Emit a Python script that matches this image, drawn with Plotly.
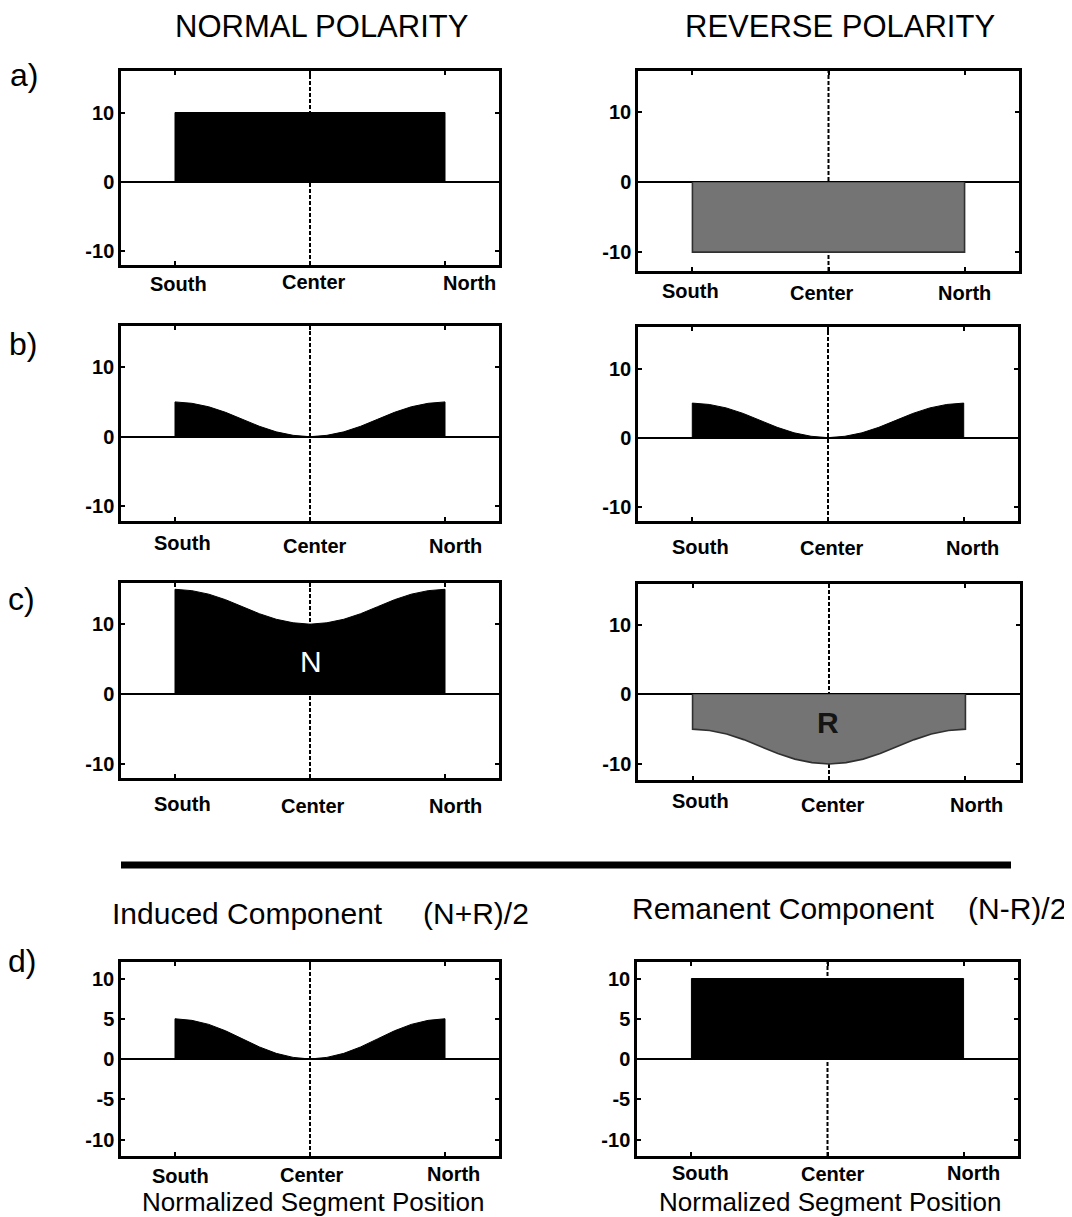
import plotly.graph_objects as go

# page size and the browser's default body margin (the figure div starts at 8,8)
PAGE_W, PAGE_H = 1072, 1217
OFF = 8
W, H = PAGE_W - OFF, PAGE_H - OFF

# ---------------- data ----------------
segment_pos = [-1, -0.875, -0.75, -0.625, -0.5, -0.375, -0.25, -0.125, 0,
               0.125, 0.25, 0.375, 0.5, 0.625, 0.75, 0.875, 1]
segment_ends = [-1, 1]

a_normal = [10, 10]
a_reverse = [-10, -10]
b_normal = [5.0, 4.8, 4.3, 3.5, 2.5, 1.5, 0.7, 0.2, 0.0, 0.2, 0.7, 1.5, 2.5, 3.5, 4.3, 4.8, 5.0]
b_reverse = [5.0, 4.8, 4.3, 3.5, 2.5, 1.5, 0.7, 0.2, 0.0, 0.2, 0.7, 1.5, 2.5, 3.5, 4.3, 4.8, 5.0]
c_normal = [15.0, 14.8, 14.3, 13.5, 12.5, 11.5, 10.7, 10.2, 10.0, 10.2, 10.7, 11.5, 12.5, 13.5, 14.3, 14.8, 15.0]
c_reverse = [-5.0, -5.2, -5.7, -6.5, -7.5, -8.5, -9.3, -9.8, -10.0, -9.8, -9.3, -8.5, -7.5, -6.5, -5.7, -5.2, -5.0]
d_induced = [5.0, 4.8, 4.3, 3.5, 2.5, 1.5, 0.7, 0.2, 0.0, 0.2, 0.7, 1.5, 2.5, 3.5, 4.3, 4.8, 5.0]
d_remanent = [10, 10]

x_tick_vals = [-1, 0, 1]
x_tick_text = ["South", "Center", "North"]
y_tick_vals_abc = [-10, 0, 10]
y_tick_text_abc = ["-10", "0", "10"]
y_tick_vals_d = [-10, -5, 0, 5, 10]
y_tick_text_d = ["-10", "-5", "0", "5", "10"]

col_titles = ["NORMAL POLARITY", "REVERSE POLARITY"]
row_labels = ["a)", "b)", "c)", "d)"]
comp_titles = [("Induced Component", "(N+R)/2"), ("Remanent Component", "(N-R)/2")]
x_axis_title = "Normalized Segment Position"

# ---------------- styling / layout ----------------
FONT = "Liberation Sans, Arial, Helvetica, sans-serif"
BLACK = "#000000"
GRAY = "#747474"
GRAY_EDGE = "#303030"


def px(x):
    return (x - OFF) / W


def py(y):
    return 1 - (y - OFF) / H


# panel: data x, data y, fill colour, edge colour, box (x0,x1,y0,y1 page px), y range, y ticks, label positions
panels = [
    dict(x=segment_ends, y=a_normal, fill=BLACK, edge=BLACK, box=(121, 499, 71, 265), yr=(-12.05, 16.0),
         yt=(y_tick_vals_abc, y_tick_text_abc), lab=[(178, 284), (314, 282), (469, 283)]),
    dict(x=segment_ends, y=a_reverse, fill=GRAY, edge=GRAY_EDGE, box=(638, 1019, 71, 271), yr=(-12.7, 15.9),
         yt=(y_tick_vals_abc, y_tick_text_abc), lab=[(690, 291), (822, 293), (964, 293)]),
    dict(x=segment_pos, y=b_normal, fill=BLACK, edge=BLACK, box=(121, 499, 326, 521), yr=(-12.1, 15.9),
         yt=(y_tick_vals_abc, y_tick_text_abc), lab=[(182, 543), (315, 546), (455, 546)]),
    dict(x=segment_pos, y=b_reverse, fill=BLACK, edge=BLACK, box=(638, 1018, 327, 521), yr=(-12.05, 16.0),
         yt=(y_tick_vals_abc, y_tick_text_abc), lab=[(700, 547), (832, 548), (972, 548)]),
    dict(x=segment_pos, y=c_normal, fill=BLACK, edge=BLACK, box=(121, 499, 583, 778), yr=(-12.05, 15.9),
         yt=(y_tick_vals_abc, y_tick_text_abc), lab=[(182, 804), (313, 806), (455, 806)]),
    dict(x=segment_pos, y=c_reverse, fill=GRAY, edge=GRAY_EDGE, box=(638, 1020, 584, 780), yr=(-12.3, 15.85),
         yt=(y_tick_vals_abc, y_tick_text_abc), lab=[(700, 801), (833, 805), (976, 805)]),
    dict(x=segment_pos, y=d_induced, fill=BLACK, edge=BLACK, box=(121, 499, 962, 1156), yr=(-12.05, 12.05),
         yt=(y_tick_vals_d, y_tick_text_d), lab=[(180, 1176), (312, 1175), (453, 1174)]),
    dict(x=segment_ends, y=d_remanent, fill=BLACK, edge=BLACK, box=(637, 1018, 962, 1156), yr=(-12.05, 12.05),
         yt=(y_tick_vals_d, y_tick_text_d), lab=[(700, 1173), (833, 1174), (973, 1173)]),
]

fig = go.Figure()
shapes = []
annotations = []
layout_axes = {}

for i, p in enumerate(panels):
    n = i + 1
    xa = "xaxis" if n == 1 else f"xaxis{n}"
    ya = "yaxis" if n == 1 else f"yaxis{n}"
    xr = "x" if n == 1 else f"x{n}"
    yr = "y" if n == 1 else f"y{n}"
    x0, x1, y0, y1 = p["box"]

    xs = [p["x"][0]] + list(p["x"]) + [p["x"][-1]]
    ys = [0] + list(p["y"]) + [0]
    fig.add_trace(go.Scatter(
        x=xs, y=ys, mode="lines", fill="toself", fillcolor=p["fill"],
        line=dict(color=p["edge"], width=1.6 if p["fill"] == GRAY else 1),
        xaxis=xr, yaxis=yr, hoverinfo="skip", showlegend=False))

    layout_axes[xa] = dict(
        domain=[px(x0), px(x1)], anchor=yr, range=[-1.4, 1.4],
        showgrid=False, zeroline=False, showline=True, linecolor=BLACK, linewidth=2.5,
        mirror="ticks", ticks="inside", ticklen=4, tickwidth=2, tickcolor=BLACK,
        tickvals=x_tick_vals, showticklabels=False, fixedrange=True)
    layout_axes[ya] = dict(
        domain=[py(y1), py(y0)], anchor=xr, range=list(p["yr"]),
        showgrid=False, zeroline=True, zerolinecolor=BLACK, zerolinewidth=2.4,
        showline=True, linecolor=BLACK, linewidth=2.5,
        mirror="ticks", ticks="inside", ticklen=4, tickwidth=2, tickcolor=BLACK,
        tickvals=p["yt"][0], ticktext=p["yt"][1],
        tickfont=dict(family=FONT, size=20, color=BLACK, weight="bold"), fixedrange=True)

    # dashed centre line
    shapes.append(dict(type="line", xref=xr, yref=f"{yr} domain", x0=0, x1=0, y0=0, y1=1,
                       layer="below", line=dict(color=BLACK, width=2, dash="4px,2px")))

    # South / Center / North labels
    for txt, (lx, ly) in zip(x_tick_text, p["lab"]):
        annotations.append(dict(text=txt, xref="paper", yref="paper", x=px(lx), y=py(ly),
                                xanchor="center", yanchor="middle", showarrow=False,
                                font=dict(family=FONT, size=20, color=BLACK, weight="bold")))

# column titles (box top at the top of the figure)
for txt, cx in zip(col_titles, [321, 840]):
    annotations.append(dict(text=txt, xref="paper", yref="paper", x=px(cx), y=1,
                            xanchor="center", yanchor="top", showarrow=False, borderpad=0,
                            font=dict(family=FONT, size=31, color=BLACK)))

# row labels
for txt, (lx, ly) in zip(row_labels, [(24, 75), (23, 344), (21, 599), (22, 961)]):
    annotations.append(dict(text=txt, xref="paper", yref="paper", x=px(lx), y=py(ly),
                            xanchor="center", yanchor="middle", showarrow=False,
                            font=dict(family=FONT, size=32, color=BLACK)))

# component titles
for (name, formula), (lx, rx, ly) in zip(comp_titles, [(110, 531, 913), (630, 1068, 908)]):
    annotations.append(dict(text=name, xref="paper", yref="paper", x=px(lx), y=py(ly),
                            xanchor="left", yanchor="middle", showarrow=False,
                            font=dict(family=FONT, size=30, color=BLACK)))
    annotations.append(dict(text=formula, xref="paper", yref="paper", x=px(rx), y=py(ly),
                            xanchor="right", yanchor="middle", showarrow=False,
                            font=dict(family=FONT, size=30, color=BLACK)))

# x-axis titles under bottom panels
for cx in [313, 830]:
    annotations.append(dict(text=x_axis_title, xref="paper", yref="paper", x=px(cx), y=py(1201.5),
                            xanchor="center", yanchor="middle", showarrow=False, borderpad=0,
                            font=dict(family=FONT, size=26, color=BLACK)))

# N and R markers
annotations.append(dict(text="N", xref="paper", yref="paper", x=px(311), y=py(661),
                        xanchor="center", yanchor="middle", showarrow=False,
                        font=dict(family=FONT, size=30, color="#ffffff")))
annotations.append(dict(text="R", xref="paper", yref="paper", x=px(828), y=py(722),
                        xanchor="center", yanchor="middle", showarrow=False,
                        font=dict(family=FONT, size=30, color="#141414", weight="bold")))

# thick separator line
shapes.append(dict(type="line", xref="paper", yref="paper", x0=px(121), x1=px(1011),
                   y0=py(865), y1=py(865), line=dict(color=BLACK, width=7)))

fig.update_layout(
    width=W, height=H, margin=dict(l=0, r=0, t=0, b=0),
    paper_bgcolor="white", plot_bgcolor="white",
    shapes=shapes, annotations=annotations, showlegend=False,
    **layout_axes)

fig.write_html("out.html")
